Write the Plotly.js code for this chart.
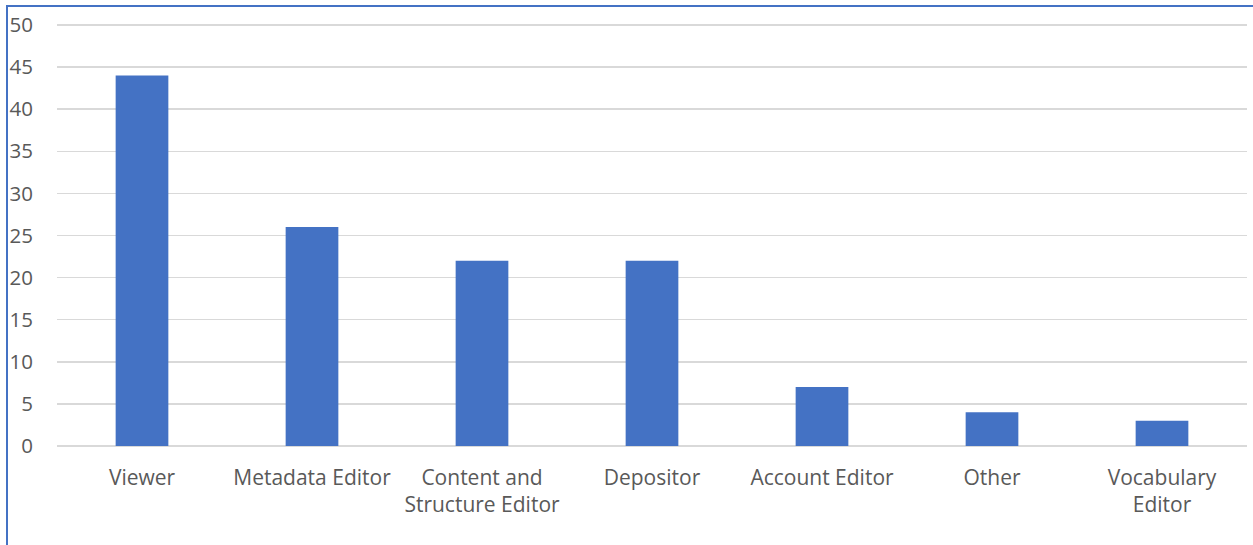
<!DOCTYPE html>
<html>
<head>
<meta charset="utf-8">
<script src="https://cdn.plot.ly/plotly-3.0.1.min.js"></script>
<style>
html,body{margin:0;padding:0;background:#fff;}
#chart{position:absolute;left:0;top:0;width:1253px;height:545px;}
#frame{position:absolute;left:6px;top:5px;width:1260px;height:560px;border-left:2px solid #4472C4;border-top:2px solid #4472C4;pointer-events:none;}
</style>
</head>
<body>
<div id="chart"></div>
<div id="frame"></div>
<script>
const categories = ["Viewer", "Metadata Editor", "Content and<br>Structure Editor", "Depositor", "Account Editor", "Other", "Vocabulary<br>Editor"];
const counts = [44, 26, 22, 22, 7, 4, 3];
const yTicks = [0, 5, 10, 15, 20, 25, 30, 35, 40, 45, 50];

const trace = {
  type: "bar",
  x: categories,
  y: counts,
  marker: {color: "#4472C4"},
  hoverinfo: "x+y"
};

const layout = {
  width: 1253,
  height: 545,
  margin: {l: 57, r: 6, t: 24, b: 99, pad: 0},
  paper_bgcolor: "rgba(0,0,0,0)",
  plot_bgcolor: "#ffffff",
  bargap: 0.69,
  showlegend: false,
  font: {family: "Open Sans, sans-serif", size: 21, color: "#595959"},
  xaxis: {
    type: "category",
    showgrid: false,
    showline: false,
    zeroline: false,
    ticks: "",
    tickfont: {size: 21, color: "#595959"},
    ticklabelstandoff: 17
  },
  yaxis: {
    range: [0, 50.12],
    tickvals: yTicks,
    ticktext: yTicks.map(String),
    showgrid: true,
    gridcolor: "#d9d9d9",
    gridwidth: 1.5,
    zeroline: true,
    zerolinecolor: "#d9d9d9",
    zerolinewidth: 1.5,
    showline: false,
    ticks: "",
    tickfont: {size: 20.5, color: "#595959"},
    ticklabelstandoff: 23
  }
};

Plotly.newPlot("chart", [trace], layout, {displayModeBar: false, staticPlot: true});
</script>
</body>
</html>
